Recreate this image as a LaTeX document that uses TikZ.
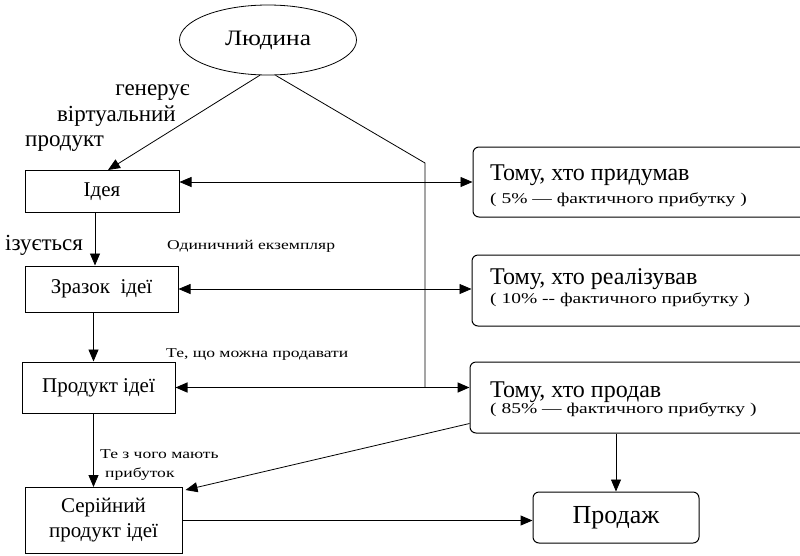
\documentclass[tikz,border=0pt]{standalone}
\usepackage{fontspec}
\setmainfont{Liberation Serif}
\newfontfamily\widesf[FakeStretch=1.3]{Liberation Serif}
\newfontfamily\midsf[FakeStretch=1.15]{Liberation Serif}
\usetikzlibrary{arrows.meta,shapes.geometric,calc}
\tikzset{
  box/.style={draw,line width=1pt,inner sep=0pt,align=center,font=\fontsize{21}{25}\selectfont},
  rbox/.style={draw,line width=1pt,rounded corners=6pt,inner sep=0pt},
  lab/.style={inner sep=0pt,font=\fontsize{23}{26}\selectfont},
  hlab/.style={inner sep=0pt,font=\fontsize{24}{28}\selectfont},
  sub/.style={inner sep=0pt,font=\widesf\fontsize{15}{18}\selectfont},
  slab/.style={inner sep=0pt,font=\widesf\fontsize{13.5}{16}\selectfont},
  arr/.style={-{Triangle[length=12pt,width=10pt]},line width=0.8pt},
  darr/.style={{Triangle[length=12pt,width=10pt]}-{Triangle[length=12pt,width=10pt]},line width=0.8pt}
}
\begin{document}
\begin{tikzpicture}[x=1pt,y=-1pt]
\useasboundingbox (0,0) rectangle (800,555);
% nodes
\node[draw,ellipse,line width=0.8pt,minimum width=177pt,minimum height=70pt,inner sep=0pt,font=\midsf\fontsize{22}{26}\selectfont] (lud) at (268,40) {Людина};
\node[box,minimum width=154pt,minimum height=42pt] (idea) at (102,191.5) {Ідея};
\node[box,minimum width=153pt,minimum height=46pt] (zr) at (101.5,289) {Зразок\ \ ідеї};
\node[box,minimum width=153pt,minimum height=51pt] (pr) at (98.5,387.5) {Продукт ідеї};
\node[box,minimum width=157pt,minimum height=66pt] (ser) at (103.5,520.5) {Серійний\\продукт ідеї};
\node[rbox,minimum width=347pt,minimum height=70pt] (t1) at (646.5,182) {};
\node[rbox,minimum width=348pt,minimum height=71pt] (t2) at (646,290.5) {};
\node[rbox,minimum width=350pt,minimum height=71pt] (t3) at (645,397.5) {};
\node[rbox,minimum width=166pt,minimum height=51pt,font=\fontsize{26}{30}\selectfont] (prod) at (616,517.5) {Продаж};
% texts in right boxes
\node[hlab,anchor=base west] (t1a) at (490,180) {Тому, хто придумав};
\node[sub,anchor=base west] (t1b) at (490,203) {( 5\% — фактичного прибутку )};
\node[hlab,anchor=base west] (t2a) at (490,284) {Тому, хто реалізував};
\node[sub,anchor=base west] (t2b) at (490,303) {( 10\% -- фактичного прибутку )};
\node[hlab,anchor=base west] (t3a) at (490,397) {Тому, хто продав};
\node[sub,anchor=base west] (t3b) at (490,413) {( 85\% — фактичного прибутку )};
% labels
\node[lab,anchor=base east] (g1) at (190,95) {генерує};
\node[lab,anchor=base east] (g2) at (176,121) {віртуальний};
\node[lab,anchor=base west] (g3) at (25,146) {продукт};
\node[lab,anchor=base west] (iz) at (5,250) {ізується};
\node[slab,anchor=base west] (od) at (167,249) {Одиничний екземпляр};
\node[slab,anchor=base west] (tsh) at (166,357) {Те, що можна продавати};
\node[slab,anchor=base west] (tz1) at (100,458) {Те з чого мають};
\node[slab,anchor=base west] (tz2) at (105,477) {прибуток};
% coordinates
\coordinate (vtop) at (425,163);
% connectors
\draw[arr] (lud.-103) -- ([xshift=6pt]idea.north);
\draw[line width=0.8pt] (lud.-78) -- (vtop) -- (vtop |- pr.east);
\draw[darr] (idea.east |- t1.west) -- (t1.west);
\draw[darr] (zr.east) -- (zr.east -| t2.west);
\draw[darr,line width=1.5pt] (pr.east) -- (pr.east -| t3.west);
\draw[arr] ([xshift=-7pt]idea.south) -- ([xshift=-7pt]idea.south |- zr.north);
\draw[arr] ([xshift=-8pt]zr.south) -- ([xshift=-8pt]zr.south |- pr.north);
\draw[arr] ([xshift=-5pt]pr.south) -- ([xshift=-5pt]pr.south |- ser.north);
\draw[arr] ([yshift=10pt]t3.south west) -- ([xshift=3pt,yshift=-3pt]ser.north east);
\draw[arr] (prod.north |- t3.south) -- (prod.north);
\draw[arr,line width=1pt] (ser.east) -- (ser.east -| prod.west);
\end{tikzpicture}
\end{document}
